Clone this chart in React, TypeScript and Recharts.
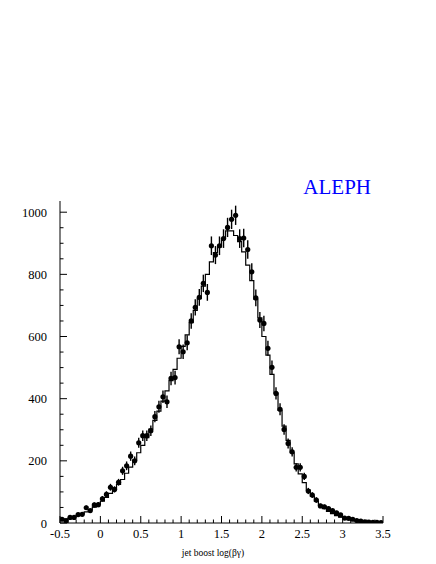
import React from "react";
import { ComposedChart, Line, Scatter, ErrorBar, XAxis, YAxis } from "recharts";

// binning of the jet boost histogram
const binLow = -0.5;
const binWidth = 0.05;

// measured data (points)
const dataCounts = [
    12, 7, 18, 18, 27, 28, 49, 40, 58, 59,
    78, 92, 115, 108, 131, 168, 184, 215, 200, 258,
    281, 281, 297, 342, 374, 406, 390, 465, 468, 567,
    551, 580, 650, 694, 726, 771, 742, 892, 862, 892,
    915, 951, 977, 990, 915, 917, 880, 808, 724, 653,
    642, 562, 501, 417, 366, 301, 256, 229, 179, 179,
    150, 103, 90, 74, 55, 52, 46, 40, 33, 26,
    16, 15, 12, 8, 6, 4, 3, 2, 2, 1,
];
const dataErrors = [
    4, 3, 4, 4, 5, 5, 7, 6, 8, 8,
    9, 10, 11, 10, 11, 13, 14, 15, 14, 16,
    17, 17, 17, 18, 19, 20, 20, 22, 22, 24,
    23, 24, 25, 26, 27, 28, 27, 30, 29, 30,
    30, 31, 31, 31, 30, 30, 30, 28, 27, 26,
    25, 24, 22, 20, 19, 17, 16, 15, 13, 13,
    12, 10, 9, 9, 7, 7, 7, 6, 6, 5,
    4, 4, 3, 3, 2, 2, 2, 1, 1, 1,
];

// simulation (histogram)
const mcCounts = [
    10, 13, 16, 20, 25, 30, 36, 43, 51, 60,
    70, 82, 95, 108, 124, 140, 160, 180, 202, 226,
    250, 275, 302, 330, 360, 392, 425, 458, 494, 530,
    568, 605, 645, 684, 722, 762, 800, 840, 870, 888,
    915, 940, 940, 925, 905, 872, 830, 780, 720, 660,
    600, 540, 478, 418, 362, 312, 266, 226, 190, 158,
    130, 106, 86, 70, 57, 46, 37, 30, 24, 19,
    15, 11, 8, 6, 4, 3, 2, 2, 1, 1,
];

const xTicks = [
    -0.5, -0.4, -0.3, -0.2, -0.1, 0, 0.1, 0.2, 0.3, 0.4,
    0.5, 0.6, 0.7, 0.8, 0.9, 1, 1.1, 1.2, 1.3, 1.4,
    1.5, 1.6, 1.7, 1.8, 1.9, 2, 2.1, 2.2, 2.3, 2.4,
    2.5, 2.6, 2.7, 2.8, 2.9, 3, 3.1, 3.2, 3.3, 3.4, 3.5,
];
const xLabels = [-0.5, 0, 0.5, 1, 1.5, 2, 2.5, 3, 3.5];
const yTicks = [
    0, 50, 100, 150, 200, 250, 300, 350, 400, 450, 500,
    550, 600, 650, 700, 750, 800, 850, 900, 950, 1000,
];
const yLabels = [0, 200, 400, 600, 800, 1000];

const points = dataCounts.map((y, i) => ({
    x: binLow + binWidth * (i + 0.5),
    y,
    err: dataErrors[i],
}));
const steps = mcCounts
    .map((mc, i) => ({ x: binLow + binWidth * i, mc }))
    .concat([{ x: binLow + binWidth * mcCounts.length, mc: mcCounts[mcCounts.length - 1] }]);

const serif = "Liberation Serif";

const BottomTick = (props: any) => {
    const { x, y, payload } = props;
    const major = xLabels.includes(payload.value);
    return (
        <g>
            <line x1={x} y1={y} x2={x} y2={y - (major ? 7 : 3.5)} stroke="#000" />
            {major && (
                <text x={x} y={y + 15} textAnchor="middle" fontSize={12.5} fontFamily={serif} fill="#000">
                    {payload.value}
                </text>
            )}
        </g>
    );
};

const TopTick = (props: any) => {
    const { x, y, payload } = props;
    const major = xLabels.includes(payload.value);
    return <line x1={x} y1={y} x2={x} y2={y + (major ? 7 : 3.5)} stroke="#000" />;
};

const LeftTick = (props: any) => {
    const { x, y, payload } = props;
    const major = yLabels.includes(payload.value);
    return (
        <g>
            <line x1={x} y1={y} x2={x + (major ? 7 : 3.5)} y2={y} stroke="#000" />
            {major && (
                <text x={x - 13} y={y + 4.5} textAnchor="end" fontSize={12.5} fontFamily={serif} fill="#000">
                    {payload.value}
                </text>
            )}
        </g>
    );
};

const RightTick = (props: any) => {
    const { x, y, payload } = props;
    const major = yLabels.includes(payload.value);
    return <line x1={x} y1={y} x2={x - (major ? 7 : 3.5)} y2={y} stroke="#000" />;
};

const Dot = (props: any) => <circle cx={props.cx} cy={props.cy} r={2.6} fill="#000" />;

export default function App() {
    return (
        <div style={{ position: "absolute", left: 0, top: 0, width: 436, height: 564, background: "#fff", fontFamily: serif }}>
            <ComposedChart width={436} height={564} margin={{ top: 201, right: 53, bottom: 0, left: 0 }}>
                <XAxis
                    xAxisId="bottom"
                    dataKey="x"
                    type="number"
                    domain={[-0.5, 3.5]}
                    ticks={xTicks}
                    interval={0}
                    tick={BottomTick}
                    tickLine={false}
                    tickSize={0}
                    tickMargin={0}
                    axisLine={{ stroke: "#000" }}
                    height={41}
                    allowDataOverflow
                />
                <XAxis
                    xAxisId="top"
                    orientation="top"
                    type="number"
                    domain={[-0.5, 3.5]}
                    ticks={xTicks}
                    interval={0}
                    tick={TopTick}
                    tickLine={false}
                    tickSize={0}
                    tickMargin={0}
                    axisLine={{ stroke: "#000" }}
                    height={0}
                    allowDataOverflow
                />
                <YAxis
                    yAxisId="left"
                    dataKey="y"
                    type="number"
                    domain={[0, 1036]}
                    ticks={yTicks}
                    interval={0}
                    tick={LeftTick}
                    tickLine={false}
                    tickSize={0}
                    tickMargin={0}
                    axisLine={{ stroke: "#000" }}
                    width={60}
                    allowDataOverflow
                />
                <YAxis
                    yAxisId="right"
                    orientation="right"
                    type="number"
                    domain={[0, 1036]}
                    ticks={yTicks}
                    interval={0}
                    tick={RightTick}
                    tickLine={false}
                    tickSize={0}
                    tickMargin={0}
                    axisLine={{ stroke: "#000" }}
                    width={0}
                    allowDataOverflow
                />
                <Line
                    xAxisId="bottom"
                    yAxisId="left"
                    data={steps}
                    dataKey="mc"
                    type="stepAfter"
                    stroke="#000"
                    strokeWidth={1.2}
                    dot={false}
                    isAnimationActive={false}
                />
                <Scatter
                    xAxisId="bottom"
                    yAxisId="left"
                    data={points}
                    dataKey="y"
                    shape={Dot}
                    isAnimationActive={false}
                >
                    <ErrorBar dataKey="err" direction="y" width={0} stroke="#000" strokeWidth={1.4} />
                </Scatter>
            </ComposedChart>
            <svg width={436} height={564} style={{ position: "absolute", left: 0, top: 0, pointerEvents: "none" }}>
                <text x={371} y={194} textAnchor="end" fontSize={21} fontFamily={serif} fill="#0000ff">
                    ALEPH
                </text>
                <text x={213} y={556} textAnchor="middle" fontSize={9.5} fontFamily={serif} fill="#000">
                    jet boost log(βγ)
                </text>
            </svg>
        </div>
    );
}
